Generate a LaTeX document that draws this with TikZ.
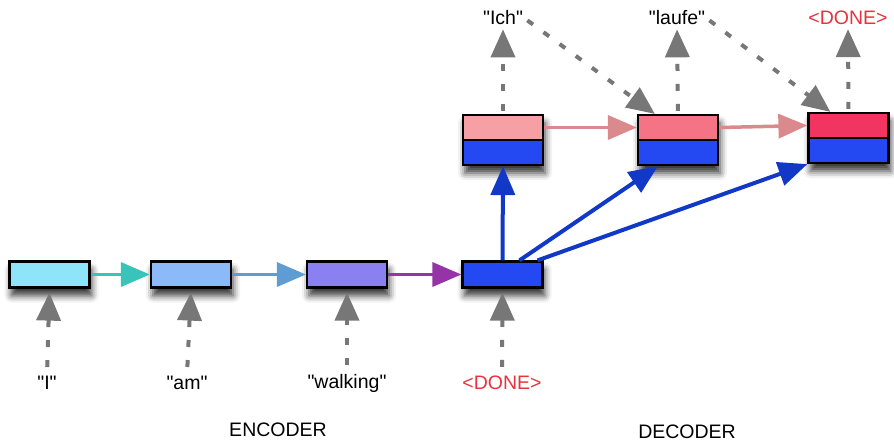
\documentclass[tikz,border=0pt]{standalone}
\usepackage{fontspec}
\setmainfont{Liberation Sans}
\usetikzlibrary{arrows.meta,shadows.blur}
\definecolor{encA}{HTML}{8EE4F8}
\definecolor{encB}{HTML}{8CBAF8}
\definecolor{encC}{HTML}{8A80F2}
\definecolor{decblue}{HTML}{2448F2}
\definecolor{pinkA}{HTML}{F6A0A6}
\definecolor{pinkB}{HTML}{F47486}
\definecolor{pinkC}{HTML}{F23460}
\definecolor{arrTeal}{HTML}{38C4B8}
\definecolor{arrSteel}{HTML}{5E9CD2}
\definecolor{arrPurple}{HTML}{9434A6}
\definecolor{arrPink}{HTML}{DA8A8C}
\definecolor{arrBlue}{HTML}{1238C8}
\definecolor{arrGray}{HTML}{777777}
\definecolor{doneRed}{HTML}{E8323E}
\newcommand\qdq{\XeTeXglyph\XeTeXcharglyph"22\relax}
\begin{document}
\begin{tikzpicture}[x=1pt,y=-1pt,
  font=\fontsize{19.5}{22}\selectfont,
  cell/.style={draw=black, line width=2.2pt, minimum width=80pt, minimum height=26pt, inner sep=0pt,
    blur shadow={shadow xshift=2pt, shadow yshift=-8pt, shadow blur radius=7pt, shadow opacity=80}},
  dcell/.style={cell, minimum height=50pt, fill=#1,
    path picture={\fill[decblue] (path picture bounding box.west) rectangle (path picture bounding box.south east);
      \draw[black, line width=2.2pt] (path picture bounding box.west) -- (path picture bounding box.east);}},
  word/.style={inner sep=1pt},
  done/.style={word, text=doneRed},
  flow/.style={line width=3.5pt, -{Triangle[length=29pt,width=24pt]}},
  inarr/.style={draw=arrGray, line width=4pt, dash pattern=on 7pt off 13pt,
    -{Triangle[length=28pt,width=24pt]}, color=arrGray},
  blarr/.style={draw=arrBlue, line width=4pt, -{Triangle[length=29pt,width=24pt]}, color=arrBlue}
]
\useasboundingbox (0,0) rectangle (894,445);

% encoder cells
\node[cell, fill=encA] (e1) at (49.5,274.5) {};
\node[cell, fill=encB] (e2) at (191,274.5) {};
\node[cell, fill=encC] (e3) at (347,274.5) {};
\node[cell, fill=decblue] (d0) at (502.5,274.5) {};

% decoder cells
\node[dcell=pinkA] (dA) at (503,140) {};
\node[dcell=pinkB] (dB) at (678,140) {};
\node[dcell=pinkC] (dC) at (848.5,138) {};

% input words
\node[word] (wI) at (47,383) {\qdq I\qdq};
\node[word] (wAm) at (187,383) {\qdq am\qdq};
\node[word] (wWalk) at (347,383) {\qdq walking\qdq};
\node[done] (wDone) at (502,383) {<DONE>};

% output words
\node[word] (oIch) at (503,18) {\qdq Ich\qdq};
\node[word] (oLaufe) at (677,18) {\qdq laufe\qdq};
\node[done] (oDone) at (848,18) {<DONE>};

% section labels
\node[word] (enc) at (278,430) {ENCODER};
\node[word] (dec) at (687,432) {DECODER};

% encoder flow
\draw[flow, draw=arrTeal, color=arrTeal] (e1) -- (e2);
\draw[flow, draw=arrSteel, color=arrSteel] (e2) -- (e3);
\draw[flow, draw=arrPurple, color=arrPurple] (e3) -- (d0);

% decoder flow
\draw[flow, draw=arrPink, color=arrPink] ([yshift=12.5pt]dA.east) -- ([yshift=12.5pt]dB.west);
\draw[flow, draw=arrPink, color=arrPink] ([yshift=12.5pt]dB.east) -- ([yshift=12.5pt]dC.west);

% inputs
\draw[inarr, shorten <=8pt, shorten >=4pt] (wI.north) -- (e1.south);
\draw[inarr, shorten <=8pt, shorten >=4pt] (wAm.north) -- (e2.south);
\draw[inarr, shorten <=8pt, shorten >=4pt] (wWalk.north) -- (e3.south);
\draw[inarr, shorten <=8pt, shorten >=4pt] (wDone.north) -- (d0.south);

% outputs
\draw[inarr, shorten <=3pt, shorten >=3pt] (dA.north) -- (oIch.south);
\draw[inarr, shorten <=3pt, shorten >=3pt] (dB.north) -- (oLaufe.south);
\draw[inarr, shorten <=3pt, shorten >=3pt] (dC.north) -- (oDone.south);

% feedback of outputs
\draw[inarr, shorten <=4pt] (oIch.east) -- ([xshift=18pt]dB.north west);
\draw[inarr, shorten <=4pt] (oLaufe.east) -- ([xshift=23pt]dC.north west);

% context vector
\draw[blarr] (d0.north) -- (dA.south);
\draw[blarr] ([xshift=17pt]d0.north) -- ([xshift=-20pt]dB.south);
\draw[blarr] ([xshift=35pt]d0.north) -- (dC.south west);
\end{tikzpicture}
\end{document}
